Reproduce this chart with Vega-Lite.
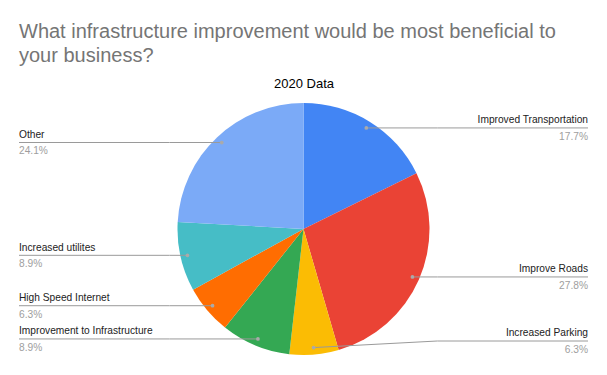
{
  "$schema": "https://vega.github.io/schema/vega-lite/v6.json",
  "width": 607,
  "height": 281,
  "padding": {"top": 21, "left": 0, "right": 0, "bottom": 0},
  "background": "white",
  "title": {
    "text": ["What infrastructure improvement would be most beneficial to", "your business?"],
    "anchor": "start",
    "frame": "group",
    "dx": 19,
    "fontSize": 20,
    "font": "Liberation Sans",
    "fontWeight": "normal",
    "color": "#757575",
    "lineHeight": 24.4,
    "offset": 11
  },
  "config": {"view": {"stroke": null}, "font": "Liberation Sans"},
  "data": {
    "values": [
      {"label": "Improved Transportation", "pct": 17.7},
      {"label": "Improve Roads", "pct": 27.8},
      {"label": "Increased Parking", "pct": 6.3},
      {"label": "Improvement to Infrastructure", "pct": 8.9},
      {"label": "High Speed Internet", "pct": 6.3},
      {"label": "Increased utilites", "pct": 8.9},
      {"label": "Other", "pct": 24.1}
    ]
  },
  "transform": [
    {"window": [{"op": "sum", "field": "pct", "as": "cum"}], "frame": [null, 0]},
    {"calculate": "datum.cum - datum.pct", "as": "start"},
    {"calculate": "(datum.cum - datum.pct / 2) / 100 * 2 * PI", "as": "mid"},
    {"calculate": "119 * sin(datum.mid)", "as": "dotx"},
    {"calculate": "-119 * cos(datum.mid)", "as": "doty"},
    {"calculate": "datum.dotx >= 0 ? 1 : -1", "as": "side"},
    {"calculate": "min(datum.doty, 112)", "as": "liney"},
    {"calculate": "datum.side * 134", "as": "bendx"},
    {"calculate": "datum.side * 284.5", "as": "endx"},
    {"calculate": "format(datum.pct, '.1f') + '%'", "as": "pctlabel"}
  ],
  "layer": [
    {
      "mark": {"type": "arc", "radius": 126},
      "encoding": {
        "x": {"datum": 0, "type": "quantitative", "scale": {"domain": [-303.5, 303.5], "nice": false, "zero": false}, "axis": {"orient": "top", "title": "2020 Data", "labels": false, "ticks": false, "domain": false, "grid": false, "titleFont": "Liberation Sans", "titleFontSize": 13, "titleFontWeight": "normal", "titleColor": "#000000", "titlePadding": 4}},
        "y": {"datum": 0, "type": "quantitative", "scale": {"domain": [-135, 146], "nice": false, "zero": false, "reverse": true}, "axis": null},
        "theta": {"field": "start", "type": "quantitative", "stack": null, "scale": {"domain": [0, 100]}},
        "theta2": {"field": "cum"},
        "color": {
          "field": "label",
          "type": "nominal",
          "scale": {
            "domain": ["Improved Transportation", "Improve Roads", "Increased Parking", "Improvement to Infrastructure", "High Speed Internet", "Increased utilites", "Other"],
            "range": ["#4285F4", "#EA4335", "#FBBC04", "#34A853", "#FF6D01", "#46BDC6", "#7BAAF7"]
          },
          "legend": null
        }
      }
    },
    {
      "mark": {"type": "rule", "color": "#9a9a9a", "strokeWidth": 1},
      "encoding": {
        "x": {"field": "dotx", "type": "quantitative", "scale": {"domain": [-303.5, 303.5], "nice": false, "zero": false}, "axis": {"orient": "top", "title": "2020 Data", "labels": false, "ticks": false, "domain": false, "grid": false, "titleFont": "Liberation Sans", "titleFontSize": 13, "titleFontWeight": "normal", "titleColor": "#000000", "titlePadding": 4}},
        "y": {"field": "doty", "type": "quantitative", "scale": {"domain": [-135, 146], "nice": false, "zero": false, "reverse": true}, "axis": null},
        "x2": {"field": "bendx"},
        "y2": {"field": "liney"}
      }
    },
    {
      "mark": {"type": "rule", "color": "#9a9a9a", "strokeWidth": 1},
      "encoding": {
        "x": {"field": "bendx", "type": "quantitative", "scale": {"domain": [-303.5, 303.5], "nice": false, "zero": false}, "axis": {"orient": "top", "title": "2020 Data", "labels": false, "ticks": false, "domain": false, "grid": false, "titleFont": "Liberation Sans", "titleFontSize": 13, "titleFontWeight": "normal", "titleColor": "#000000", "titlePadding": 4}},
        "y": {"field": "liney", "type": "quantitative", "scale": {"domain": [-135, 146], "nice": false, "zero": false, "reverse": true}, "axis": null},
        "x2": {"field": "endx"},
        "y2": {"field": "liney"}
      }
    },
    {
      "mark": {"type": "point", "filled": true, "color": "#aaaaaa", "size": 14, "opacity": 1},
      "encoding": {
        "x": {"field": "dotx", "type": "quantitative", "scale": {"domain": [-303.5, 303.5], "nice": false, "zero": false}, "axis": {"orient": "top", "title": "2020 Data", "labels": false, "ticks": false, "domain": false, "grid": false, "titleFont": "Liberation Sans", "titleFontSize": 13, "titleFontWeight": "normal", "titleColor": "#000000", "titlePadding": 4}},
        "y": {"field": "doty", "type": "quantitative", "scale": {"domain": [-135, 146], "nice": false, "zero": false, "reverse": true}, "axis": null}
      }
    },
    {
      "transform": [{"filter": "datum.side < 0"}],
      "mark": {"type": "text", "align": "left", "baseline": "alphabetic", "dy": -4.6, "fontSize": 10.2, "color": "#222222", "font": "Liberation Sans"},
      "encoding": {
        "x": {"field": "endx", "type": "quantitative", "scale": {"domain": [-303.5, 303.5], "nice": false, "zero": false}, "axis": {"orient": "top", "title": "2020 Data", "labels": false, "ticks": false, "domain": false, "grid": false, "titleFont": "Liberation Sans", "titleFontSize": 13, "titleFontWeight": "normal", "titleColor": "#000000", "titlePadding": 4}},
        "y": {"field": "liney", "type": "quantitative", "scale": {"domain": [-135, 146], "nice": false, "zero": false, "reverse": true}, "axis": null},
        "text": {"field": "label"}
      }
    },
    {
      "transform": [{"filter": "datum.side > 0"}],
      "mark": {"type": "text", "align": "right", "baseline": "alphabetic", "dy": -4.6, "fontSize": 10.2, "color": "#222222", "font": "Liberation Sans"},
      "encoding": {
        "x": {"field": "endx", "type": "quantitative", "scale": {"domain": [-303.5, 303.5], "nice": false, "zero": false}, "axis": {"orient": "top", "title": "2020 Data", "labels": false, "ticks": false, "domain": false, "grid": false, "titleFont": "Liberation Sans", "titleFontSize": 13, "titleFontWeight": "normal", "titleColor": "#000000", "titlePadding": 4}},
        "y": {"field": "liney", "type": "quantitative", "scale": {"domain": [-135, 146], "nice": false, "zero": false, "reverse": true}, "axis": null},
        "text": {"field": "label"}
      }
    },
    {
      "transform": [{"filter": "datum.side < 0"}],
      "mark": {"type": "text", "align": "left", "baseline": "alphabetic", "dy": 11.8, "fontSize": 10.2, "color": "#9e9e9e", "font": "Liberation Sans"},
      "encoding": {
        "x": {"field": "endx", "type": "quantitative", "scale": {"domain": [-303.5, 303.5], "nice": false, "zero": false}, "axis": {"orient": "top", "title": "2020 Data", "labels": false, "ticks": false, "domain": false, "grid": false, "titleFont": "Liberation Sans", "titleFontSize": 13, "titleFontWeight": "normal", "titleColor": "#000000", "titlePadding": 4}},
        "y": {"field": "liney", "type": "quantitative", "scale": {"domain": [-135, 146], "nice": false, "zero": false, "reverse": true}, "axis": null},
        "text": {"field": "pctlabel"}
      }
    },
    {
      "transform": [{"filter": "datum.side > 0"}],
      "mark": {"type": "text", "align": "right", "baseline": "alphabetic", "dy": 11.8, "fontSize": 10.2, "color": "#9e9e9e", "font": "Liberation Sans"},
      "encoding": {
        "x": {"field": "endx", "type": "quantitative", "scale": {"domain": [-303.5, 303.5], "nice": false, "zero": false}, "axis": {"orient": "top", "title": "2020 Data", "labels": false, "ticks": false, "domain": false, "grid": false, "titleFont": "Liberation Sans", "titleFontSize": 13, "titleFontWeight": "normal", "titleColor": "#000000", "titlePadding": 4}},
        "y": {"field": "liney", "type": "quantitative", "scale": {"domain": [-135, 146], "nice": false, "zero": false, "reverse": true}, "axis": null},
        "text": {"field": "pctlabel"}
      }
    }
  ]
}
